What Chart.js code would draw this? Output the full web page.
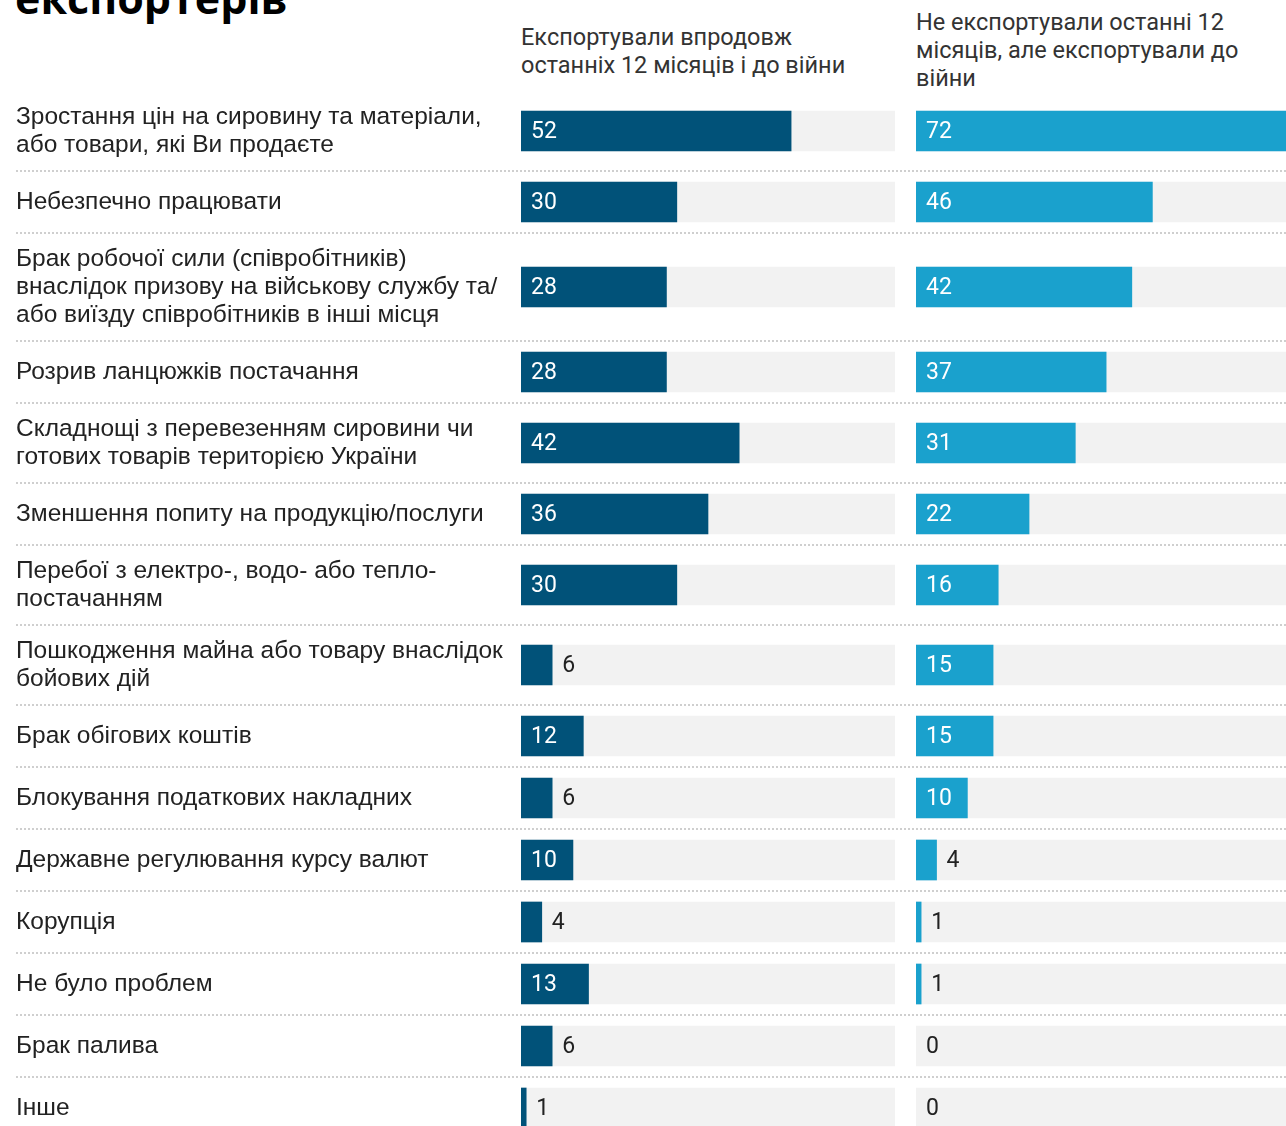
<!DOCTYPE html>
<html>
<head>
<meta charset="utf-8">
<script src="https://cdn.jsdelivr.net/npm/chart.js@4"></script>
<style>
  body { margin: 0; background: #fff; overflow: hidden; width: 1286px; height: 1126px; position: relative; }
  #title { position: absolute; left: 15px; top: -24px; font: bold 43px/43px "Open Sans", sans-serif; color: #000; white-space: nowrap; }
  .head { position: absolute; font: 23.5px/28px Roboto, sans-serif; color: #333; white-space: nowrap; }
  #headLeft { left: 521px; top: 23px; }
  #headRight { left: 916px; top: 8px; }
  #leftWrap { position: absolute; left: 0; top: 91px; }
  #rightWrap { position: absolute; left: 916px; top: 91px; }
</style>
</head>
<body>
<div id="title">експортерів</div>
<div class="head" id="headLeft">Експортували впродовж<br>останніх 12 місяців і до війни</div>
<div class="head" id="headRight">Не експортували останні 12<br>місяців, але експортували до<br>війни</div>
<div id="leftWrap"><canvas id="leftChart" width="916" height="1048"></canvas></div>
<div id="rightWrap"><canvas id="rightChart" width="370" height="1048"></canvas></div>
<script>
// Categories (each entry split into the lines shown in the picture)
const categories = [
    ['Зростання цін на сировину та матеріали,', 'або товари, які Ви продаєте'],
    ['Небезпечно працювати'],
    ['Брак робочої сили (співробітників)', 'внаслідок призову на військову службу та/', 'або виїзду співробітників в інші місця'],
    ['Розрив ланцюжків постачання'],
    ['Складнощі з перевезенням сировини чи', 'готових товарів територією України'],
    ['Зменшення попиту на продукцію/послуги'],
    ['Перебої з електро-, водо- або тепло-', 'постачанням'],
    ['Пошкодження майна або товару внаслідок', 'бойових дій'],
    ['Брак обігових коштів'],
    ['Блокування податкових накладних'],
    ['Державне регулювання курсу валют'],
    ['Корупція'],
    ['Не було проблем'],
    ['Брак палива'],
    ['Інше']
];

// Series values, %
const exportedBoth = [52, 30, 28, 28, 42, 36, 30, 6, 12, 6, 10, 4, 13, 6, 1];
const exportedBeforeWar = [72, 46, 42, 37, 31, 22, 16, 15, 15, 10, 4, 1, 1, 0, 0];
const axisMax = 72;

// row heights follow the number of label lines
const rowTops = [];
const rowCenters = [];
let total = 0;
categories.forEach(lines => {
    const h = Math.max(62, lines.length * 28 + 24);
    rowTops.push(total);
    rowCenters.push(total + h / 2);
    total += h;
});

// dotted separators between rows
const separatorPlugin = {
    id: 'separators',
    beforeDatasetsDraw(chart, args, opts) {
        const ctx = chart.ctx;
        const yScale = chart.scales.y;
        ctx.save();
        ctx.strokeStyle = '#cfcfcf';
        ctx.lineWidth = 2;
        ctx.setLineDash([2, 2]);
        rowTops.slice(1).forEach(t => {
            const y = Math.round(yScale.getPixelForValue(t));
            ctx.beginPath();
            ctx.moveTo(opts.from || 0, y);
            ctx.lineTo(chart.width, y);
            ctx.stroke();
        });
        ctx.restore();
    }
};

// value labels: inside the bar in white, or after it in dark
const valueLabelPlugin = {
    id: 'valueLabels',
    afterDatasetsDraw(chart) {
        const ctx = chart.ctx;
        const meta = chart.getDatasetMeta(1);
        const values = chart.data.datasets[1].data;
        ctx.save();
        ctx.font = '23px Roboto';
        ctx.textBaseline = 'middle';
        ctx.textAlign = 'left';
        meta.data.forEach((bar, i) => {
            const v = values[i].x;
            if (v >= 8) {
                ctx.fillStyle = '#ffffff';
                ctx.fillText(v, bar.base + 10, bar.y + 1);
            } else {
                ctx.fillStyle = '#222222';
                ctx.fillText(v, bar.x + 10, bar.y + 1);
            }
        });
        ctx.restore();
    }
};

function makeChart(canvasId, values, color, showLabels) {
    const ctx = document.getElementById(canvasId).getContext('2d');
    return new Chart(ctx, {
        type: 'bar',
        data: {
            datasets: [{
                data: rowCenters.map(c => ({ x: axisMax, y: c })),
                backgroundColor: '#f2f2f2',
                barThickness: 40,
                grouped: false,
                order: 2
            }, {
                data: values.map((v, i) => ({ x: v, y: rowCenters[i] })),
                // zero bars should not leave a hairline
                backgroundColor: values.map(v => v > 0 ? color : 'rgba(0,0,0,0)'),
                barThickness: 40,
                grouped: false,
                order: 1
            }]
        },
        options: {
            indexAxis: 'y',
            responsive: false,
            animation: false,
            devicePixelRatio: 1,
            layout: { padding: showLabels ? { left: 16, right: 21, top: 0, bottom: 0 } : 0 },
            plugins: {
                legend: { display: false },
                tooltip: { enabled: false },
                separators: { from: showLabels ? 16 : 0 }
            },
            scales: {
                x: { type: 'linear', min: 0, max: axisMax, display: false },
                y: {
                    type: 'linear',
                    min: 0,
                    max: total,
                    reverse: true,
                    offset: false,
                    display: showLabels,
                    grid: { display: false },
                    border: { display: false },
                    afterBuildTicks: scale => {
                        scale.ticks = rowCenters.map(c => ({ value: c }));
                    },
                    afterFit: scale => {
                        if (showLabels) scale.width = 505;
                        scale.paddingTop = 0;
                        scale.paddingBottom = 0;
                    },
                    ticks: {
                        autoSkip: false,
                        crossAlign: 'far',
                        color: '#222',
                        font: { family: 'Liberation Sans', size: 24.5, lineHeight: 28 / 24.5 },
                        callback: (value, index) => categories[index]
                    }
                }
            }
        },
        plugins: [separatorPlugin, valueLabelPlugin]
    });
}

makeChart('leftChart', exportedBoth, '#015279', true);
makeChart('rightChart', exportedBeforeWar, '#1aa1cd', false);
</script>
</body>
</html>
